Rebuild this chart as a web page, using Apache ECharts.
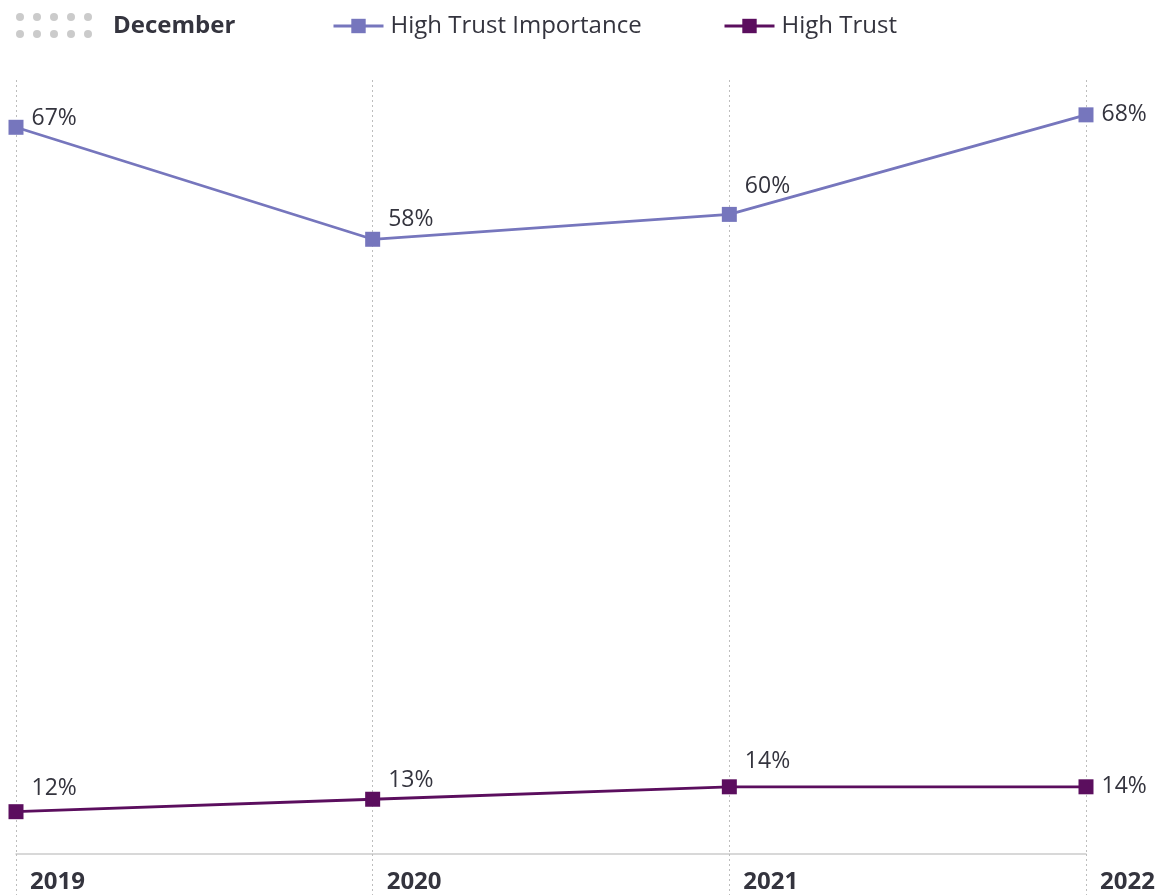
<!DOCTYPE html>
<html>
<head>
<meta charset="utf-8">
<script src="https://cdn.jsdelivr.net/npm/echarts@6/dist/echarts.min.js"></script>
<style>
  html, body { margin: 0; padding: 0; background: #fff; }
  #chart { width: 1175px; height: 895px; }
</style>
</head>
<body>
<div id="chart"></div>
<script>
// data
const years = ['2019', '2020', '2021', '2022']
const highTrustImportance = [67, 58, 60, 68]
const highTrust = [12, 13, 14, 14]

// label lift per point (style only)
const importanceLift = [-9, -20, -28, 0]
const trustLift = [-23, -19, -25, 0]

const FONT = '"Open Sans", sans-serif'
const TEXT = '#34343e'
const LIGHT = '#7676bd'
const DARK = '#5b0e5e'

const withLabels = (values, lifts) =>
  values.map((v, i) => ({ value: v, label: { offset: [0, lifts[i]] } }))

// little dot grid in the top-left corner
const dots = []
for (let r = 0; r < 2; r++) {
  for (let c = 0; c < 5; c++) {
    dots.push({
      type: 'circle',
      shape: { cx: 20 + c * 17, cy: 17 + r * 17, r: 4 },
      style: { fill: '#cbcbcb' },
      silent: true
    })
  }
}

const chart = echarts.init(document.getElementById('chart'))

const labelStyle = {
  show: true,
  position: 'right',
  distance: 8,
  formatter: '{c}%',
  fontSize: 23,
  color: TEXT,
  fontFamily: FONT
}

const legendBase = {
  top: 9,
  itemWidth: 50,
  itemHeight: 18,
  lineStyle: { width: 3 },
  textStyle: { fontSize: 24, color: TEXT, fontFamily: FONT, padding: [0, 0, 0, 2] }
}

const option = {
  animation: false,
  textStyle: { fontFamily: FONT },
  title: {
    text: 'December',
    left: 108,
    top: 9,
    textStyle: { fontSize: 24, fontWeight: 'bold', color: TEXT, fontFamily: FONT }
  },
  graphic: dots,
  legend: [
    { ...legendBase, left: 327, data: ['High Trust Importance'] },
    { ...legendBase, left: 718, data: ['High Trust'] }
  ],
  grid: { left: 16, right: 89, top: 80, bottom: 41 },
  xAxis: {
    type: 'category',
    data: years,
    boundaryGap: false,
    axisLine: { lineStyle: { color: '#cccccc', width: 1.5 } },
    axisTick: { show: true, length: 41, lineStyle: { color: '#bdbdbd', type: [2, 3], width: 1 } },
    splitLine: { show: true, lineStyle: { color: '#bdbdbd', type: [2, 3], width: 1 } },
    axisLabel: {
      align: 'left',
      padding: [0, 0, 0, 14],
      margin: 16,
      fontSize: 24,
      fontWeight: 'bold',
      color: TEXT,
      fontFamily: FONT
    }
  },
  yAxis: {
    type: 'value',
    min: 8.6,
    max: 70.8,
    show: false,
    splitLine: { show: false }
  },
  series: [
    {
      name: 'High Trust Importance',
      type: 'line',
      data: withLabels(highTrustImportance, importanceLift),
      symbol: 'rect',
      symbolSize: 15,
      lineStyle: { color: LIGHT, width: 2.8 },
      itemStyle: { color: LIGHT },
      label: labelStyle
    },
    {
      name: 'High Trust',
      type: 'line',
      data: withLabels(highTrust, trustLift),
      symbol: 'rect',
      symbolSize: 15,
      lineStyle: { color: DARK, width: 2.8 },
      itemStyle: { color: DARK },
      label: labelStyle
    }
  ]
}

chart.setOption(option)

window.addEventListener('resize', () => {
  chart.resize()
})
</script>
</body>
</html>
